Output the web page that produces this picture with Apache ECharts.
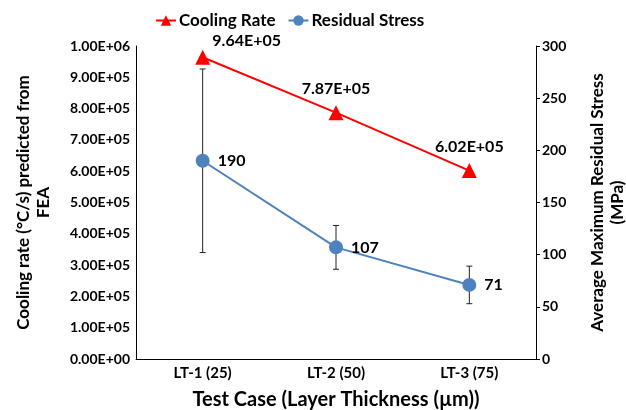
<!DOCTYPE html>
<html>
<head>
<meta charset="utf-8">
<script src="https://cdn.jsdelivr.net/npm/echarts@6/dist/echarts.min.js"></script>
<style>
    html, body { margin: 0; padding: 0; background: #fff; }
    #chart { width: 626px; height: 410px; }
</style>
</head>
<body>
<div id="chart"></div>
<script>
    // data
    const categories = ['LT-1 (25)', 'LT-2 (50)', 'LT-3 (75)']
    const coolingRate = [964000, 787000, 602000]
    const residualStress = [190, 107, 71]
    const stressLow = [102, 86, 53]
    const stressHigh = [278, 128, 89]

    const font = 'Lato, "Open Sans", sans-serif'

    function sci(v) {
        if (v === 0) return '0.00E+00'
        let e = Math.floor(Math.log10(v))
        let m = v / Math.pow(10, e)
        return m.toFixed(2) + 'E+' + (e < 10 ? '0' + e : e)
    }

    let chart = echarts.init(document.getElementById('chart'))
    let options = {
        backgroundColor: '#fff',
        textStyle: { fontFamily: font },
        legend: {
            top: 7,
            left: 150,
            itemWidth: 20,
            itemHeight: 13,
            itemGap: 12,
            textStyle: { fontFamily: font, fontWeight: 'bold', fontSize: 17, color: '#000', padding: [0, 0, 0, -2] },
            data: ['Cooling Rate', 'Residual Stress']
        },
        grid: { left: 136, right: 90, top: 46, bottom: 51, containLabel: false, outerBoundsMode: 'none' },
        xAxis: {
            type: 'category',
            data: categories,
            boundaryGap: true,
            name: 'Test Case (Layer Thickness (µm))',
            nameLocation: 'middle',
            nameGap: 31,
            nameTextStyle: { fontFamily: font, fontWeight: 'bold', fontSize: 20, color: '#000' },
            axisLine: { lineStyle: { color: '#000', width: 1 } },
            axisTick: { show: false },
            axisLabel: { fontFamily: font, fontWeight: 'bold', fontSize: 15, color: '#000', margin: 7 }
        },
        yAxis: [
            {
                type: 'value',
                min: 0,
                max: 1000000,
                interval: 100000,
                name: 'Cooling rate (°C/s) predicted from\nFEA',
                nameLocation: 'middle',
                nameGap: 82,
                nameTextStyle: { fontFamily: font, fontWeight: 'bold', fontSize: 17, color: '#000', lineHeight: 20 },
                axisLine: { show: true, lineStyle: { color: '#000', width: 1 } },
                axisTick: { show: false },
                splitLine: { show: false },
                axisLabel: { fontFamily: font, fontWeight: 'bold', fontSize: 14, color: '#000', margin: 6, formatter: sci }
            },
            {
                type: 'value',
                min: 0,
                max: 300,
                interval: 50,
                name: 'Average Maximum Residual Stress\n(MPa)',
                nameLocation: 'middle',
                nameGap: 52,
                nameTextStyle: { fontFamily: font, fontWeight: 'bold', fontSize: 17, color: '#000', lineHeight: 20 },
                axisLine: { show: true, lineStyle: { color: '#000', width: 1 } },
                axisTick: { show: true, length: 4, lineStyle: { color: '#000' } },
                splitLine: { show: false },
                axisLabel: { fontFamily: font, fontWeight: 'bold', fontSize: 14, color: '#000', margin: 6 }
            }
        ],
        series: [
            {
                name: 'errorBars',
                type: 'custom',
                yAxisIndex: 1,
                z: 1,
                silent: true,
                data: categories.map((c, i) => [i, stressLow[i], stressHigh[i]]),
                renderItem: function (params, api) {
                    let lo = api.coord([api.value(0), api.value(1)])
                    let hi = api.coord([api.value(0), api.value(2)])
                    let cap = 3
                    let st = { stroke: '#222', lineWidth: 1 }
                    return {
                        type: 'group',
                        children: [
                            { type: 'line', shape: { x1: lo[0], y1: lo[1], x2: hi[0], y2: hi[1] }, style: st },
                            { type: 'line', shape: { x1: lo[0] - cap, y1: lo[1], x2: lo[0] + cap, y2: lo[1] }, style: st },
                            { type: 'line', shape: { x1: hi[0] - cap, y1: hi[1], x2: hi[0] + cap, y2: hi[1] }, style: st }
                        ]
                    }
                }
            },
            {
                name: 'Cooling Rate',
                type: 'line',
                yAxisIndex: 0,
                z: 3,
                data: coolingRate.map((v, i) => i === 0
                    ? { value: v, label: { position: 'top', offset: [44, 7] } }
                    : v),
                symbol: 'triangle',
                symbolSize: 15,
                itemStyle: { color: '#ff0000' },
                lineStyle: { color: '#ff0000', width: 2 },
                label: {
                    show: true,
                    position: 'top',
                    distance: 8,
                    fontFamily: font,
                    fontWeight: 'bold',
                    fontSize: 16,
                    color: '#000',
                    formatter: p => sci(p.value)
                }
            },
            {
                name: 'Residual Stress',
                type: 'line',
                yAxisIndex: 1,
                z: 3,
                data: residualStress,
                symbol: 'circle',
                symbolSize: 14,
                itemStyle: { color: '#4f81bd' },
                lineStyle: { color: '#4f81bd', width: 2 },
                label: {
                    show: true,
                    position: 'right',
                    distance: 8,
                    fontFamily: font,
                    fontWeight: 'bold',
                    fontSize: 16,
                    color: '#000'
                }
            }
        ]
    }
    chart.setOption(options)
</script>
</body>
</html>
